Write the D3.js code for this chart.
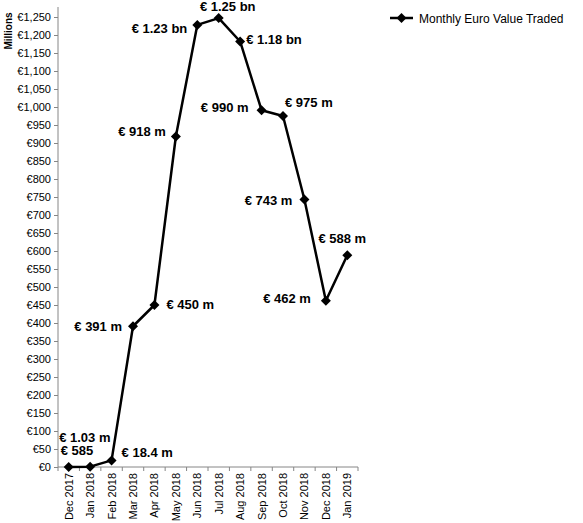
<!DOCTYPE html>
<html>
<head>
<meta charset="utf-8">
<script src="https://cdn.jsdelivr.net/npm/d3@7"></script>
<style>
  body { margin: 0; background: #fff; }
  svg { display: block; font-family: "Liberation Sans", Arial, sans-serif; }
</style>
</head>
<body>
<svg id="chart"></svg>
<script>
var months = ['Dec 2017', 'Jan 2018', 'Feb 2018', 'Mar 2018', 'Apr 2018', 'May 2018', 'Jun 2018',
              'Jul 2018', 'Aug 2018', 'Sep 2018', 'Oct 2018', 'Nov 2018', 'Dec 2018', 'Jan 2019'];
var values = [0.000585, 1.03, 18.4, 391, 450, 918, 1228, 1247, 1182, 991, 975, 743, 462, 588]; // millions of euro
var valueLabels = ['€ 585', '€ 1.03 m', '€ 18.4 m', '€ 391 m', '€ 450 m', '€ 918 m', '€ 1.23 bn',
                   '€ 1.25 bn', '€ 1.18 bn', '€ 990 m', '€ 975 m', '€ 743 m', '€ 462 m', '€ 588 m'];
var yTicks = d3.range(0, 1251, 50);
var seriesName = 'Monthly Euro Value Traded';

// label placement per point: [anchor, dx, dy]
var labelPlace = [['start', -8, -12], ['start', -31, -25], ['start', 10, -3], ['end', -11, 5],
                  ['start', 12, 4], ['end', -10, -1], ['end', -10, 8], ['middle', 9, -7],
                  ['start', 6, 3], ['end', -13, 2], ['start', 2, -9], ['end', -12, 5],
                  ['end', -15, 2], ['middle', -5, -12]];

var width = 583, height = 523;
var plotLeft = 58, plotRight = 358, plotTop = 17, plotBottom = 467;
var axisColor = '#868686';

var svg = d3.select('#chart').attr('width', width).attr('height', height);

var x = d3.scaleBand().domain(months).range([plotLeft, plotRight]).padding(0);
var y = d3.scaleLinear().domain([0, 1250]).range([plotBottom, plotTop]);

// y axis
var yAxis = svg.append('g')
  .attr('transform', 'translate(' + plotLeft + ',0)')
  .call(d3.axisLeft(y).tickValues(yTicks).tickSize(4).tickSizeOuter(0)
    .tickFormat(function(d){ return '€' + d3.format(',')(d); }));
yAxis.select('.domain').remove();
yAxis.selectAll('line').attr('stroke', axisColor);
yAxis.selectAll('text').attr('font-size', 11).attr('fill', '#000')
  .attr('font-family', 'Liberation Sans, Arial, sans-serif').attr('x', -7);
svg.append('line')
  .attr('x1', plotLeft).attr('x2', plotLeft)
  .attr('y1', plotBottom).attr('y2', plotTop - 10)
  .attr('stroke', axisColor);

svg.append('text')
  .attr('transform', 'translate(12,' + (plotTop + 14) + ') rotate(-90)')
  .attr('text-anchor', 'middle')
  .attr('font-size', 10).attr('font-weight', 'bold')
  .text('Millions');

// x axis
svg.append('line')
  .attr('x1', plotLeft).attr('x2', plotRight)
  .attr('y1', plotBottom).attr('y2', plotBottom)
  .attr('stroke', axisColor);

var bounds = months.map(function(m){ return x(m); }).concat([plotRight]);
svg.selectAll('line.xtick')
  .data(bounds)
  .enter()
  .append('line')
  .attr('class', 'xtick')
  .attr('x1', function(d){ return d; }).attr('x2', function(d){ return d; })
  .attr('y1', plotBottom).attr('y2', plotBottom + 4)
  .attr('stroke', axisColor);

svg.selectAll('text.xlabel')
  .data(months)
  .enter()
  .append('text')
  .attr('class', 'xlabel')
  .attr('transform', function(d){
    return 'translate(' + (x(d) + x.bandwidth() / 2 + 4) + ',' + (plotBottom + 6) + ') rotate(-90)';
  })
  .attr('text-anchor', 'end')
  .attr('font-size', 11)
  .text(function(d){ return d; });

// series
var cx = function(d, i){ return x(months[i]) + x.bandwidth() / 2; };
var line = d3.line()
  .x(function(d, i){ return cx(d, i); })
  .y(function(d){ return y(d); });

svg.append('path')
  .datum(values)
  .attr('d', line)
  .attr('fill', 'none')
  .attr('stroke', '#000')
  .attr('stroke-width', 2.5)
  .attr('stroke-linejoin', 'round');

var diamond = d3.symbol().type(d3.symbolSquare).size(50);
svg.selectAll('path.marker')
  .data(values)
  .enter()
  .append('path')
  .attr('class', 'marker')
  .attr('d', diamond)
  .attr('transform', function(d, i){
    return 'translate(' + cx(d, i) + ',' + y(d) + ') rotate(45)';
  })
  .attr('fill', '#000');

svg.selectAll('text.vlabel')
  .data(values)
  .enter()
  .append('text')
  .attr('class', 'vlabel')
  .attr('x', function(d, i){ return cx(d, i) + labelPlace[i][1]; })
  .attr('y', function(d, i){ return y(d) + labelPlace[i][2]; })
  .attr('text-anchor', function(d, i){ return labelPlace[i][0]; })
  .attr('font-size', 13)
  .attr('font-weight', 'bold')
  .text(function(d, i){ return valueLabels[i]; });

// legend
var lg = svg.append('g').attr('transform', 'translate(390,18)');
lg.append('line').attr('x1', 0).attr('x2', 23).attr('y1', 0).attr('y2', 0)
  .attr('stroke', '#000').attr('stroke-width', 2.5);
lg.append('path').attr('d', diamond).attr('transform', 'translate(11.5,0) rotate(45)').attr('fill', '#000');
lg.append('text').attr('x', 29).attr('y', 4.5).attr('font-size', 12).text(seriesName);
</script>
</body>
</html>
